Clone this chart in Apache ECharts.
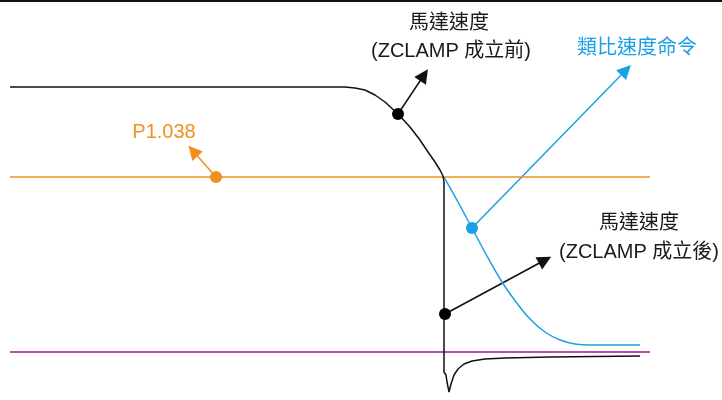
<!DOCTYPE html>
<html>
<head>
<meta charset="utf-8">
<script src="https://cdn.jsdelivr.net/npm/echarts@6/dist/echarts.min.js"></script>
<style>
    html, body { margin: 0; padding: 0; background: #fff; }
    #chart_zclamp { width: 722px; height: 400px; }
</style>
</head>
<body>
<div id="chart_zclamp"></div>
<script>
// 時間 / 速度 (任意單位)
var motorSpeed = [
    [10, 265], [345, 265], [355, 264], [365, 262], [375, 257], [385, 250],
    [398, 238], [410, 225], [420, 212], [428, 200], [435, 190], [440, 182],
    [443, 176], [444, 170], [444, -20], [446, -23], [447, -30], [449, -40],
    [451, -32], [454, -23], [458, -17], [464, -12], [472, -9], [485, -7],
    [505, -6], [550, -5], [640, -4]
];
var speedCmd = [
    [444, 175], [458, 150], [472, 124], [487, 96], [502, 70], [516, 50],
    [530, 33], [545, 20], [560, 12], [575, 8], [590, 7], [640, 7]
];
var p1038Level = [[10, 175], [650, 175]];
var zeroLevel = [[10, 0], [650, 0]];

// 標註點 與 箭頭
var dotBefore = [398, 238];
var arrowBefore = [424, 277];
var dotP1038 = [216, 175];
var arrowP1038 = [193, 201];
var dotCmd = [472, 124];
var arrowCmd = [626, 282];
var dotAfter = [445, 38];
var arrowAfter = [545, 92];

var fontFam = '"Liberation Sans", Arial, "Noto Sans CJK TC", sans-serif';

function arrow(from, to, color) {
    return {
        type: 'lines',
        coordinateSystem: 'cartesian2d',
        symbol: ['none', 'triangle'],
        symbolSize: 14,
        lineStyle: { color: color, width: 1.5, opacity: 1, curveness: 0 },
        data: [{ coords: [from, to] }],
        z: 3
    };
}
function dot(p, color) {
    return {
        type: 'scatter',
        symbolSize: 12,
        itemStyle: { color: color, opacity: 1 },
        data: [p],
        z: 4
    };
}
function label(text, x, y, color) {
    return {
        type: 'text',
        x: x, y: y,
        style: { text: text, fill: color, font: '20px ' + fontFam, align: 'center', verticalAlign: 'middle' }
    };
}

var myChart = echarts.init(document.getElementById('chart_zclamp'));

var option = {
    backgroundColor: '#fff',
    animation: false,
    grid: { left: 0, right: 0, top: 0, bottom: 0 },
    xAxis: { type: 'value', min: 0, max: 722, show: false },
    yAxis: { type: 'value', min: -48, max: 352, show: false },
    graphic: [
        { type: 'rect', shape: { x: 0, y: 0, width: 722, height: 2 }, style: { fill: '#111' } },
        label('馬達速度', 449, 23, '#1a1a1a'),
        label('(ZCLAMP 成立前)', 451, 51, '#1a1a1a'),
        label('類比速度命令', 637, 48, '#1ba1e2'),
        label('P1.038', 164, 132, '#f0901e'),
        label('馬達速度', 639, 223, '#1a1a1a'),
        label('(ZCLAMP 成立後)', 639, 252, '#1a1a1a')
    ],
    series: [
        {
            type: 'line', data: p1038Level, symbol: 'none',
            lineStyle: { color: '#f0901e', width: 1.3 }
        },
        {
            type: 'line', data: zeroLevel, symbol: 'none',
            lineStyle: { color: '#b950a8', width: 1.8 }
        },
        {
            type: 'line', data: speedCmd, symbol: 'none', smooth: 0.3,
            lineStyle: { color: '#1ba1e2', width: 1.5 }
        },
        {
            type: 'line', data: motorSpeed, symbol: 'none',
            lineStyle: { color: '#111', width: 1.5 }
        },
        arrow(dotBefore, arrowBefore, '#111'),
        arrow(dotP1038, arrowP1038, '#f0901e'),
        arrow(dotCmd, arrowCmd, '#1ba1e2'),
        arrow(dotAfter, arrowAfter, '#111'),
        dot(dotBefore, '#000'),
        dot(dotP1038, '#f0901e'),
        dot(dotCmd, '#1ba1e2'),
        dot(dotAfter, '#000')
    ]
};
myChart.setOption(option);
</script>
</body>
</html>
